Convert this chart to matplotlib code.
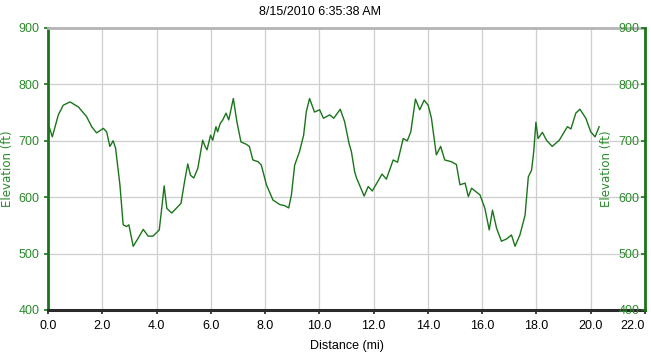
import matplotlib
matplotlib.use("Agg")
import matplotlib.pyplot as plt

# elevation profile
distance_mi = [
    0.00, 0.16, 0.38, 0.56, 0.81, 1.12, 1.42, 1.61, 1.79, 2.04, 2.16, 2.28,
    2.40, 2.49, 2.65, 2.77, 2.89, 2.98, 3.14, 3.32, 3.51, 3.69, 3.87, 4.10,
    4.19, 4.28, 4.38, 4.56, 4.90, 5.03, 5.15, 5.25, 5.37, 5.52, 5.70, 5.79,
    5.86, 5.99, 6.07, 6.19, 6.25, 6.35, 6.44, 6.56, 6.66, 6.83, 6.96, 7.11,
    7.30, 7.42, 7.55, 7.74, 7.86, 8.05, 8.29, 8.54, 8.72, 8.87, 8.97, 9.09,
    9.27, 9.42, 9.52, 9.64, 9.82, 10.01, 10.15, 10.38, 10.53, 10.77, 10.93,
    11.09, 11.18, 11.30, 11.37, 11.65, 11.80, 11.95, 12.31, 12.47, 12.72,
    12.88, 13.09, 13.24, 13.37, 13.54, 13.70, 13.86, 14.01, 14.13, 14.31,
    14.47, 14.62, 14.86, 15.05, 15.18, 15.37, 15.49, 15.61, 15.92, 16.10,
    16.26, 16.38, 16.53, 16.71, 16.90, 17.08, 17.21, 17.39, 17.58, 17.70,
    17.82, 17.90, 17.98, 18.06, 18.22, 18.37, 18.58, 18.84, 19.14, 19.27,
    19.45, 19.60, 19.82, 20.00, 20.16, 20.31,
]
elevation_ft = [
    731, 707, 746, 763, 769, 760, 743, 725, 714, 722, 716, 690,
    700, 687, 622, 551, 548, 551, 513, 527, 543, 531, 531, 542,
    580, 620, 580, 572, 589, 627, 659, 639, 634, 651, 701, 690,
    684, 710, 701, 725, 716, 731, 737, 749, 737, 775, 734, 698,
    694, 690, 666, 663, 657, 622, 595, 587, 585, 581, 604, 657,
    681, 710, 752, 775, 751, 755, 740, 746, 740, 756, 734,
    696, 681, 645, 634, 602, 619, 611, 641, 632, 666,
    662, 704, 700, 716, 774, 755, 772, 763, 740, 675,
    690, 666, 663, 658, 622, 625, 601, 616, 604, 580,
    542, 577, 545, 522, 526, 533, 513, 533, 568, 636,
    648, 681, 733, 704, 715, 701, 690, 701, 725, 721,
    749, 756, 740, 716, 707, 725,
]
x_ticks = [0, 2, 4, 6, 8, 10, 12, 14, 16, 18, 20, 22]
y_ticks = [400, 500, 600, 700, 800, 900]
title = "8/15/2010 6:35:38 AM"

GREEN = "#2b8a2b"
LINE = "#1a751a"
narrow = "Liberation Sans"

fig = plt.figure(figsize=(6.51, 3.57), dpi=100)
ax = fig.add_axes([48 / 651, 1 - 310 / 357, 597 / 651, 282 / 357])

ax.plot(distance_mi, elevation_ft, color=LINE, lw=1.0, zorder=3)
ax.set_xlim(0, 22)
ax.set_ylim(400, 900)
ax.set_xticks(x_ticks)
ax.set_xticklabels([f"{t:.1f}" for t in x_ticks], family=narrow, fontsize=9)
ax.get_xticklabels()[-1].set_horizontalalignment("right")
ax.set_yticks(y_ticks)
ax.set_yticklabels([str(t) for t in y_ticks], family=narrow, fontsize=9, color=GREEN)
ax.grid(True, color="#cfcfcf", lw=0.9)
ax.set_axisbelow(True)

ax.tick_params(axis="x", direction="out", length=3, width=1.2, color="#222222", pad=4)
ax.tick_params(axis="y", direction="out", length=3, width=1.2, color=LINE, pad=3)

ax.spines["left"].set_color(LINE)
ax.spines["left"].set_linewidth(2)
ax.spines["bottom"].set_color("#2a2a2a")
ax.spines["bottom"].set_linewidth(2.2)
ax.spines["top"].set_color("#b4b4b4")
ax.spines["top"].set_linewidth(2)
ax.spines["right"].set_visible(False)

ax.set_xlabel("Distance (mi)", family=narrow, fontsize=9, labelpad=6)
ax.set_ylabel("Elevation (ft)", family="DejaVu Sans", fontsize=8.5, color=GREEN)
ax.yaxis.set_label_coords(-34 / 597, 0.5)

# right-hand elevation axis, labels drawn inside the plot
ax2 = ax.twinx()
ax2.set_ylim(400, 900)
ax2.set_yticks(y_ticks)
ax2.set_yticklabels([str(t) for t in y_ticks], family=narrow, fontsize=9, color=GREEN)
for lbl in ax2.get_yticklabels():
    lbl.set_horizontalalignment("right")
ax2.tick_params(axis="y", direction="in", length=3, width=1.2, color=LINE, pad=-4)
for side in ("left", "top", "bottom"):
    ax2.spines[side].set_visible(False)
ax2.spines["right"].set_color(LINE)
ax2.spines["right"].set_linewidth(2)
ax2.set_ylabel("Elevation (ft)", family="DejaVu Sans", fontsize=8.5, color=GREEN, rotation=90)
ax2.yaxis.set_label_coords(0.924, 0.5)

fig.text(0.492, 0.965, title, family=narrow, fontsize=9, ha="center", va="center")

fig.savefig("out.png", dpi=100)
